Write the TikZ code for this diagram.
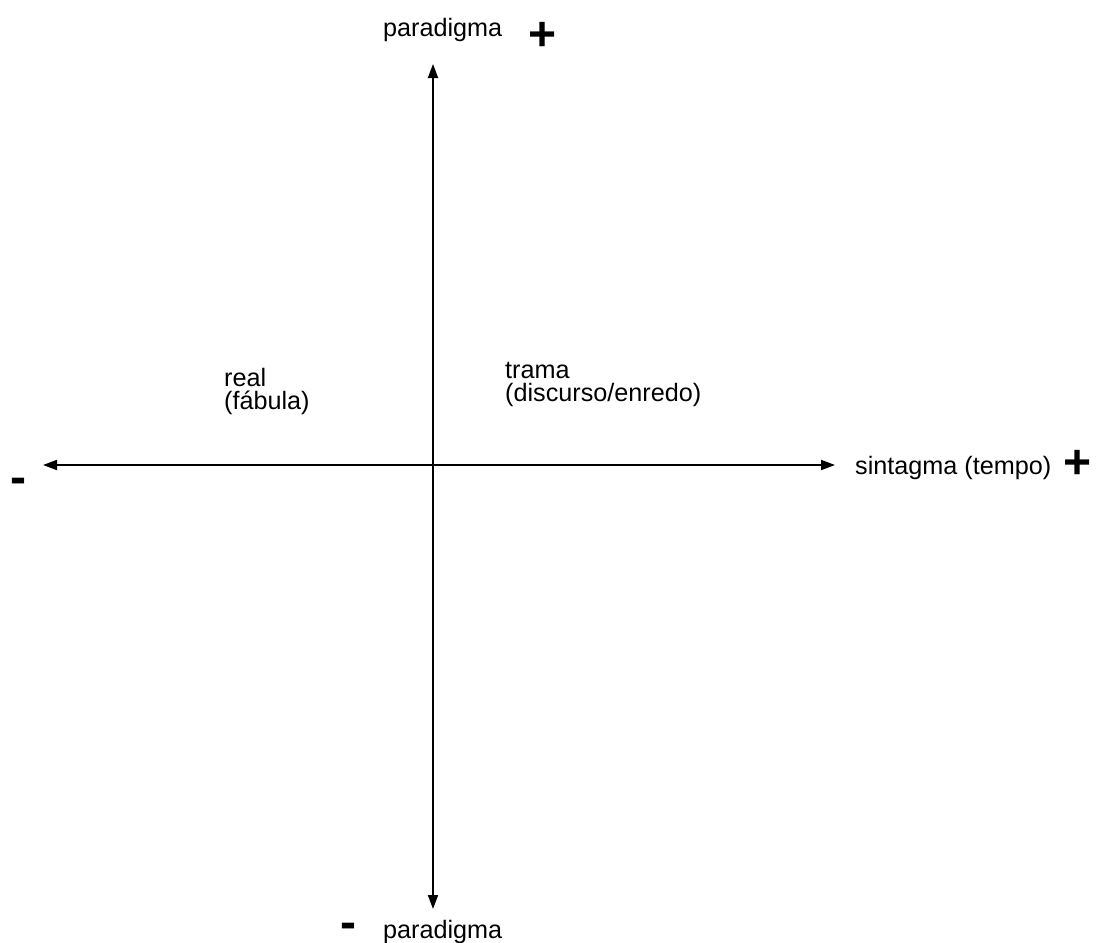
\documentclass[tikz,border=0pt]{standalone}
\usepackage{fontspec}
\setmainfont{Liberation Sans}
\usetikzlibrary{arrows.meta}
\tikzset{
  axis/.style={line width=1.8pt, {Triangle[length=14pt,width=10pt]}-{Triangle[length=14pt,width=10pt]}},
  lbl/.style={inner sep=0pt, anchor=base west, align=left,
    font=\fontsize{25.2}{23}\selectfont},
  sgn/.style={inner sep=0pt, anchor=center, font=\fontsize{48}{48}\selectfont\bfseries},
  dsh/.style={inner sep=0pt, anchor=base, font=\fontsize{48}{48}\selectfont\bfseries}
}
\begin{document}
\begin{tikzpicture}[x=1pt,y=-1pt]
\useasboundingbox (0,0) rectangle (1096,943);
\coordinate (O) at (433,465);
\coordinate (top) at (433,64);
\coordinate (bot) at (433,909);
\coordinate (lft) at (43,465);
\coordinate (rgt) at (835,465);
\draw[axis] (lft) -- (rgt);
\draw[axis] (bot) -- (top);
\node[lbl] (ptop) at (383,36) {paradigma};
\node[sgn] (plustop) at (543,36) {+};
\node[lbl] (pbot) at (383,938) {paradigma};
\node[dsh] (minusbot) at (348,938) {-};
\node[lbl] (sint) at (855,474) {sintagma (tempo)};
\node[sgn] (plusrgt) at (1078,464) {+};
\node[dsh] (minuslft) at (18,493) {-};
\node[lbl] (real) at (224,409) {real\\(fábula)};
\node[lbl] (trama) at (505,401) {trama\\(discurso/enredo)};
\end{tikzpicture}
\end{document}
